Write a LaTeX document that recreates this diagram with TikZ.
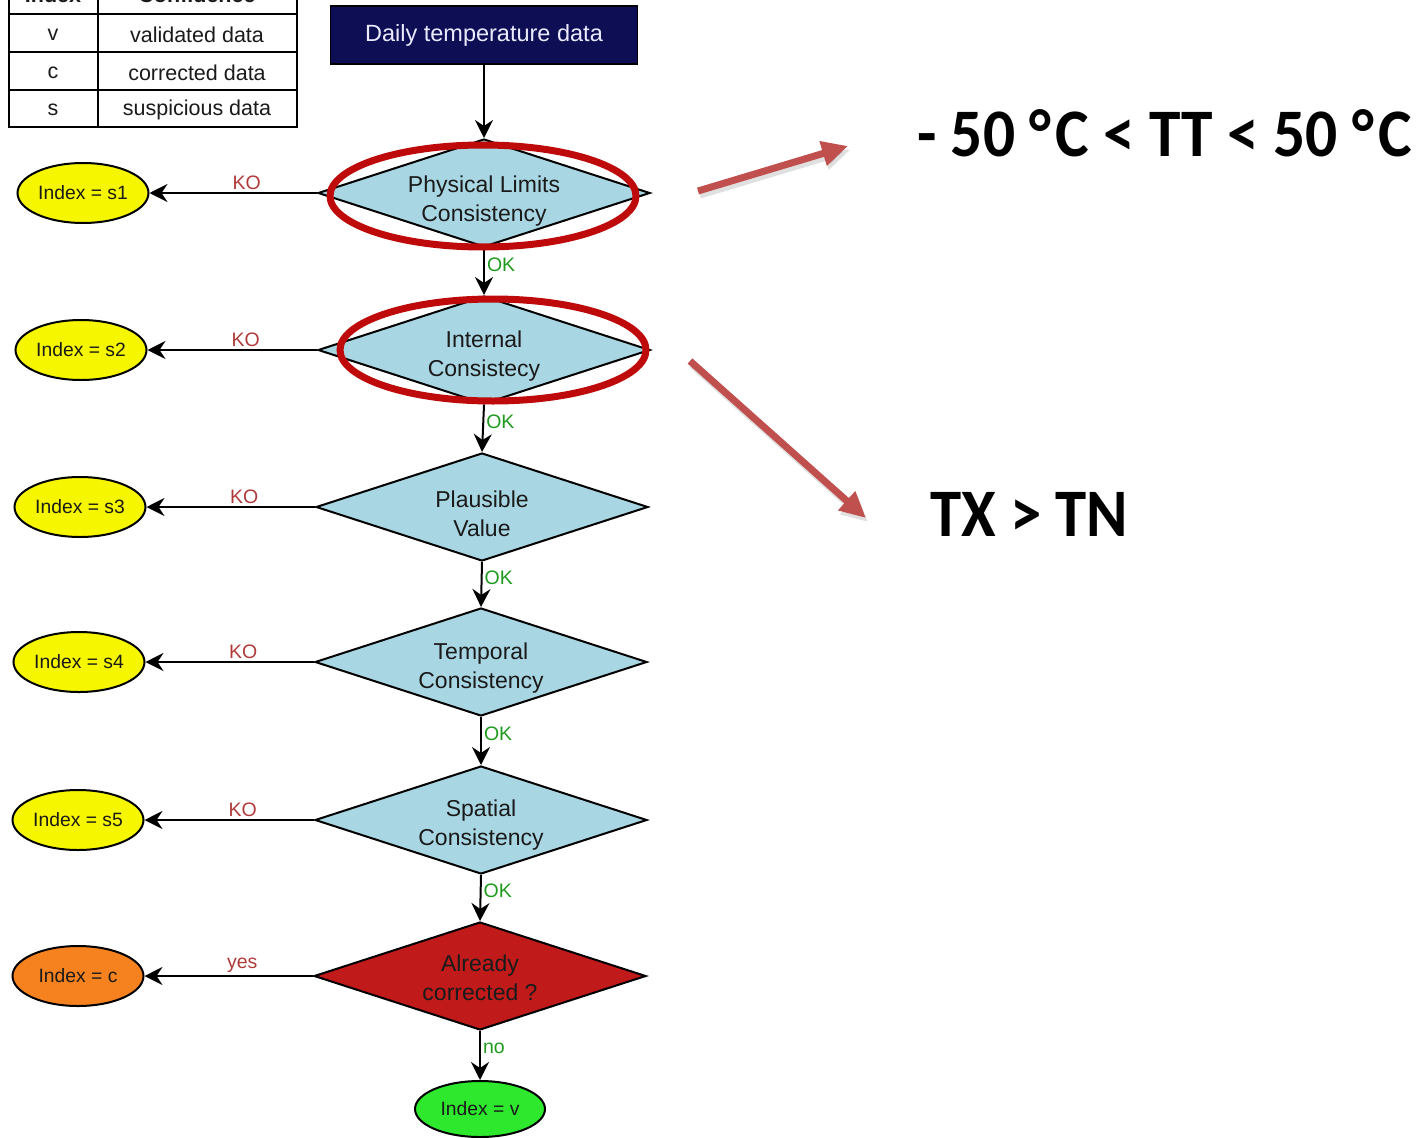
\documentclass[tikz,border=0pt]{standalone}
\usepackage{fontspec}
\usepackage{graphicx}
\setmainfont{Liberation Sans}
\newfontfamily\calib{Carlito}
\usetikzlibrary{shapes.geometric,arrows.meta}
\definecolor{navybox}{HTML}{0E0E55}
\definecolor{checkblue}{HTML}{A9D6E3}
\definecolor{checkred}{HTML}{C01A1A}
\definecolor{suspyellow}{HTML}{F6F600}
\definecolor{corrorange}{HTML}{F5821F}
\definecolor{validgreen}{HTML}{2EE82E}
\definecolor{kored}{HTML}{B03A3A}
\definecolor{okgreen}{HTML}{1E9A1E}
\definecolor{ringred}{HTML}{BE0A0A}
\definecolor{calloutred}{HTML}{C0504D}
\definecolor{inkdark}{HTML}{1A1A1A}
\newcommand{\degC}{°\kern5pt C}
\begin{document}
\begin{tikzpicture}[x=1pt,y=-1pt,
  decision/.style={diamond, draw=black, line width=2pt, fill=checkblue,
    minimum width=332pt, minimum height=108pt, inner sep=0pt, aspect=3.2},
  checktext/.style={align=center, text=inkdark, inner sep=0pt,
    font=\fontsize{23}{29}\selectfont},
  outcome/.style={ellipse, draw=black, line width=2pt, fill=suspyellow,
    minimum width=131pt, minimum height=60pt, inner sep=0pt,
    text=inkdark, font=\fontsize{19.3}{21}\selectfont},
  flow/.style={line width=2pt, -{Stealth[length=18pt,width=18pt,inset=6pt]}},
  kolabel/.style={text=kored, font=\fontsize{19.5}{21}\selectfont, inner sep=2pt},
  oklabel/.style={text=okgreen, font=\fontsize{19.5}{21}\selectfont, inner sep=2pt},
  ring/.style={ellipse, draw=ringred, line width=7pt, inner sep=0pt},
  callout/.style={draw=calloutred, line width=7pt,
    -{Triangle[length=26pt,width=24pt]}},
  calloutshade/.style={draw=black!35, opacity=0.35, line width=7pt,
    -{Triangle[length=26pt,width=24pt]}},
  cell/.style={text=inkdark, font=\fontsize{21.5}{23}\selectfont},
  bigtext/.style={font=\calib\bfseries\fontsize{68}{70}\selectfont, inner sep=0pt}
]
\useasboundingbox (0,0) rectangle (1420,1137);
\clip (0,0) rectangle (1420,1137);

% legend table
\draw[line width=2pt] (9,-25) rectangle (297,127);
\draw[line width=2pt] (98,-25) -- (98,127);
\foreach \yy in {14,52,90} \draw[line width=2pt] (9,\yy) -- (297,\yy);
\node[cell, font=\bfseries\fontsize{21.5}{23}\selectfont] (hidx) at (53,-5) {Index};
\node[cell, font=\bfseries\fontsize{21.5}{23}\selectfont] (hconf) at (197,-5) {Confidence};
\node[cell] (tv) at (53,35) {v};
\node[cell] (tvd) at (197,35) {validated data};
\node[cell] (tc) at (53,73) {c};
\node[cell] (tcd) at (197,73) {corrected data};
\node[cell] (ts) at (53,110) {s};
\node[cell] (tsd) at (197,110) {suspicious data};

% source of the series
\node[draw=black, line width=1.5pt, fill=navybox, text=white!92!blue,
  minimum width=307pt, minimum height=58pt, inner sep=0pt,
  font=\fontsize{23.5}{25}\selectfont] (src) at (484,35) {Daily temperature data};

% chain of checks
\node[decision] (d1) at (484,193) {};
\node[decision] (d2) at (484,350) {};
\node[decision] (d3) at (482,507) {};
\node[decision] (d4) at (481,662) {};
\node[decision] (d5) at (481,820) {};
\node[decision, fill=checkred] (d6) at (480,976) {};
\node[checktext] (t1) at ([yshift=-8pt]d1.center) {Physical Limits\\Consistency};
\node[checktext] (t2) at ([yshift=-6pt]d2.center) {Internal\\Consistecy};
\node[checktext] (t3) at ([yshift=-7pt]d3.center) {Plausible\\Value};
\node[checktext] (t4) at ([yshift=-6pt]d4.center) {Temporal\\Consistency};
\node[checktext] (t5) at ([yshift=-5pt]d5.center) {Spatial\\Consistency};
\node[checktext] (t6) at ([yshift=-2pt]d6.center) {Already\\corrected ?};

% resulting flags
\node[outcome] (e1) at (83,193) {Index = s1};
\node[outcome] (e2) at (81,350) {Index = s2};
\node[outcome] (e3) at (80,507) {Index = s3};
\node[outcome] (e4) at (79,662) {Index = s4};
\node[outcome] (e5) at (78,820) {Index = s5};
\node[outcome, fill=corrorange] (ec) at (78,976) {Index = c};
\node[outcome, fill=validgreen, minimum width=130pt, minimum height=56pt] (ev) at (480,1109) {Index = v};

% vertical flow
\draw[flow] (src.south) -- (d1.north);
\draw[flow] (d1.south) -- node[oklabel, pos=0.35, right] {OK} (d2.north);
\draw[flow] (d2.south) -- node[oklabel, pos=0.35, right] {OK} (d3.north);
\draw[flow] (d3.south) -- node[oklabel, pos=0.35, right] {OK} (d4.north);
\draw[flow] (d4.south) -- node[oklabel, pos=0.35, right] {OK} (d5.north);
\draw[flow] (d5.south) -- node[oklabel, pos=0.35, right] {OK} (d6.north);
\draw[flow] (d6.south) -- node[oklabel, pos=0.35, right] {no} (ev.north);

% failures to the left
\draw[flow] (d1.west) -- node[kolabel, pos=0.42, above] {KO} (e1.east);
\draw[flow] (d2.west) -- node[kolabel, pos=0.42, above] {KO} (e2.east);
\draw[flow] (d3.west) -- node[kolabel, pos=0.42, above] {KO} (e3.east);
\draw[flow] (d4.west) -- node[kolabel, pos=0.42, above] {KO} (e4.east);
\draw[flow] (d5.west) -- node[kolabel, pos=0.42, above] {KO} (e5.east);
\draw[flow] (d6.west) -- node[kolabel, pos=0.42, above] {yes} (ec.east);

% highlighted checks
\node[ring, minimum width=306pt, minimum height=102pt] (r1) at (483,196) {};
\node[ring, minimum width=306pt, minimum height=102pt] (r2) at (493,350) {};

% explanations
\coordinate (c1s) at (698,191);
\coordinate (c1e) at (848,146);
\coordinate (c2s) at (690,361);
\coordinate (c2e) at (866,518);
\draw[calloutshade] ([shift={(2,4)}]c1s) -- ([shift={(2,4)}]c1e);
\draw[calloutshade] ([shift={(2,4)}]c2s) -- ([shift={(2,4)}]c2e);
\draw[callout] (c1s) -- (c1e);
\draw[callout] (c2s) -- (c2e);
\node[bigtext, anchor=base west] (lim) at (917,157)
  {\resizebox{495pt}{\height}{- 50 \degC{} < TT < 50 \degC}};
\node[bigtext, anchor=base west] (ord) at (930,536)
  {\resizebox{198pt}{\height}{TX > TN}};
\end{tikzpicture}
\end{document}
